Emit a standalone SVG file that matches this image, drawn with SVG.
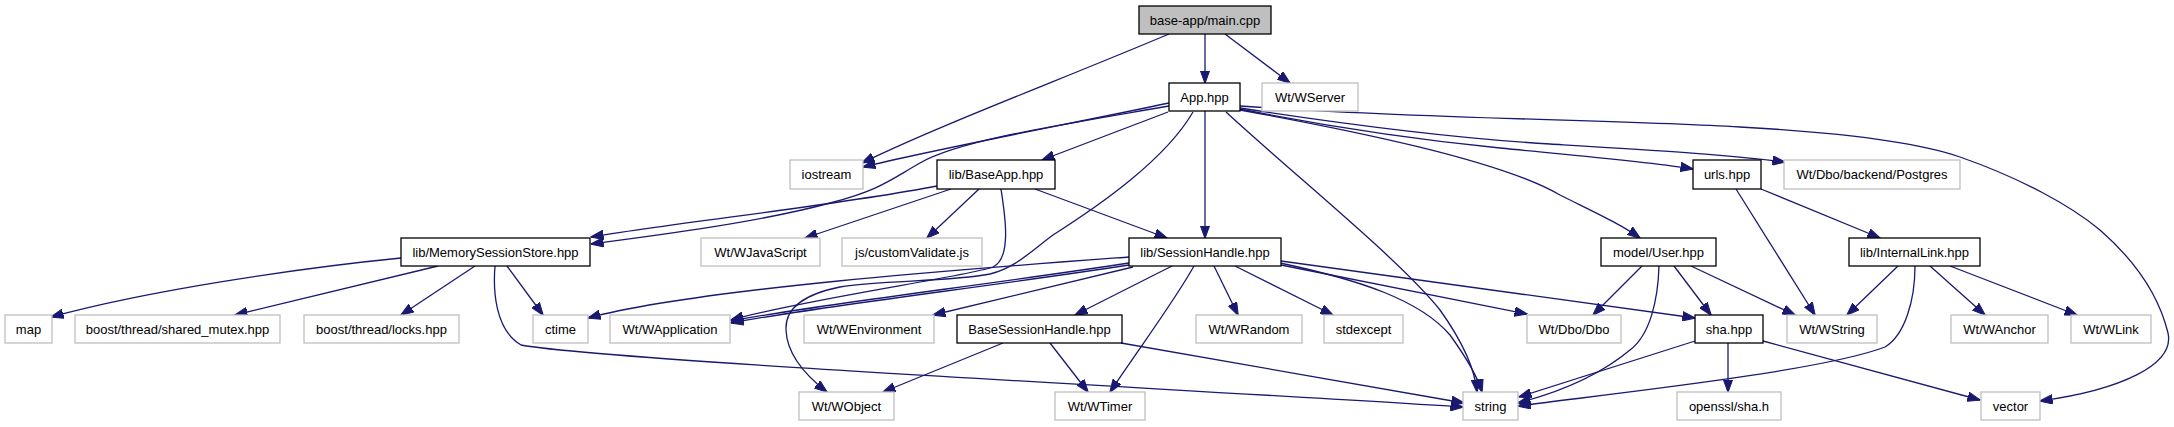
<svg xmlns="http://www.w3.org/2000/svg" width="2174" height="427" viewBox="0 0 2174 427">
<style>
.doc{fill:#ffffff;stroke:#000000;stroke-width:1.3}
.ext{fill:#ffffff;stroke:#bfbfbf;stroke-width:1.3}
.root{fill:#bfbfbf;stroke:#000000;stroke-width:1.3}
text{font-family:"Liberation Sans",Arial,sans-serif;font-size:13px;text-anchor:middle;fill:#000000}
.e{fill:none;stroke:#191970;stroke-width:1.3;marker-end:url(#arr)}
</style>
<defs>
<marker id="arr" markerUnits="userSpaceOnUse" viewBox="0 0 13 10" refX="12.5" refY="5" markerWidth="13" markerHeight="10" orient="auto">
<path d="M0,0.3 L13,5 L0,9.7 z" fill="#191970" stroke="#191970" stroke-width="1"/>
</marker>
</defs>
<rect width="2174" height="427" fill="#ffffff"/>
<g id="edges">
<path class="e" d="M1169,34 C1060,80 940,125 862,163"/>
<path class="e" d="M1205,34 L1205,83"/>
<path class="e" d="M1225,34 L1290,83"/>
<path class="e" d="M1169,103 C1080,122 940,148 863,167"/>
<path class="e" d="M1169,106 C1060,125 960,140 920,163 C890,180 880,190 830,203 C760,222 660,235 591,244"/>
<path class="e" d="M1168,112 L1042,160"/>
<path class="e" d="M1193,112 C1165,160 1100,205 1053,235 C1030,252 1015,268 990,274 C950,282 880,280 840,287 C800,295 785,310 786,330 C787,355 805,375 827,392"/>
<path class="e" d="M1205,111 L1205,238"/>
<path class="e" d="M1226,112 C1300,180 1400,260 1440,310 C1465,345 1475,370 1477,392"/>
<path class="e" d="M1240,110 C1350,130 1500,160 1560,195 C1600,215 1622,225 1640,238"/>
<path class="e" d="M1240,109 C1320,125 1400,138 1500,148 C1600,158 1650,162 1693,169"/>
<path class="e" d="M1240,108 C1350,125 1450,138 1550,144 C1650,150 1720,154 1785,162"/>
<path class="e" d="M1240,106 C1400,118 1620,120 1740,127 C1850,133 1920,143 1960,157 C2020,178 2070,205 2100,230 C2140,265 2160,300 2168,333 C2175,365 2120,390 2040,401"/>
<path class="e" d="M937,186 C840,205 680,222 591,237"/>
<path class="e" d="M951,189 L805,238"/>
<path class="e" d="M979,189 L927,238"/>
<path class="e" d="M1001,189 C1005,215 1012,258 993,267 C975,275 800,300 731,320"/>
<path class="e" d="M1035,189 L1167,238"/>
<path class="e" d="M401,258 C300,268 150,290 51,317"/>
<path class="e" d="M438,266 L235,315"/>
<path class="e" d="M475,266 L401,315"/>
<path class="e" d="M507,266 L543,315"/>
<path class="e" d="M495,266 C493,290 495,330 521,345 C600,360 1200,390 1463,407"/>
<path class="e" d="M1129,257 C980,268 700,288 588,318"/>
<path class="e" d="M1129,263 C1000,283 800,307 731,321"/>
<path class="e" d="M1129,265 C1000,285 800,309 731,323"/>
<path class="e" d="M1133,267 L933,315"/>
<path class="e" d="M1172,266 L1075,315"/>
<path class="e" d="M1194,266 C1175,300 1145,340 1110,392"/>
<path class="e" d="M1214,266 L1238,315"/>
<path class="e" d="M1235,266 L1333,315"/>
<path class="e" d="M1280,263 C1360,280 1420,300 1450,335 C1468,360 1478,378 1482,392"/>
<path class="e" d="M1281,265 L1527,314"/>
<path class="e" d="M1281,261 L1695,318"/>
<path class="e" d="M1003,343 L883,392"/>
<path class="e" d="M1050,343 L1088,392"/>
<path class="e" d="M1121,343 L1464,403"/>
<path class="e" d="M1642,266 L1593,315"/>
<path class="e" d="M1659,266 C1658,300 1650,335 1630,350 C1600,375 1560,392 1518,403"/>
<path class="e" d="M1674,266 L1711,315"/>
<path class="e" d="M1691,266 L1795,315"/>
<path class="e" d="M1736,189 L1815,315"/>
<path class="e" d="M1761,189 L1880,238"/>
<path class="e" d="M1898,266 L1847,315"/>
<path class="e" d="M1915,266 C1915,300 1905,335 1885,347 C1820,372 1600,395 1518,406"/>
<path class="e" d="M1930,266 L1985,315"/>
<path class="e" d="M1950,266 L2077,315"/>
<path class="e" d="M1695,341 L1519,397"/>
<path class="e" d="M1728,343 L1728,392"/>
<path class="e" d="M1763,341 L1980,400"/>
</g>
<g id="n_main"><rect class="root" x="1139" y="6" width="132" height="28"/><text x="1205" y="24.5">base-app/main.cpp</text></g>
<g id="n_app"><rect class="doc" x="1169" y="83" width="71" height="28"/><text x="1204.5" y="101.5">App.hpp</text></g>
<g id="n_wserver"><rect class="ext" x="1262" y="83" width="96" height="28"/><text x="1310" y="101.5">Wt/WServer</text></g>
<g id="n_iostream"><rect class="ext" x="790" y="160" width="73" height="29"/><text x="826.5" y="179">iostream</text></g>
<g id="n_baseapp"><rect class="doc" x="937" y="160" width="118" height="29"/><text x="996" y="179">lib/BaseApp.hpp</text></g>
<g id="n_urls"><rect class="doc" x="1693" y="160" width="68" height="29"/><text x="1727" y="179">urls.hpp</text></g>
<g id="n_postgres"><rect class="ext" x="1784" y="160" width="176" height="29"/><text x="1872" y="179">Wt/Dbo/backend/Postgres</text></g>
<g id="n_mss"><rect class="doc" x="401" y="238" width="189" height="28"/><text x="495.5" y="256.5">lib/MemorySessionStore.hpp</text></g>
<g id="n_wjs"><rect class="ext" x="701" y="238" width="119" height="28"/><text x="760.5" y="256.5">Wt/WJavaScript</text></g>
<g id="n_cv"><rect class="ext" x="842" y="238" width="140" height="28"/><text x="912" y="256.5">js/customValidate.js</text></g>
<g id="n_sh"><rect class="doc" x="1129" y="238" width="152" height="28"/><text x="1205" y="256.5">lib/SessionHandle.hpp</text></g>
<g id="n_user"><rect class="doc" x="1601" y="238" width="115" height="28"/><text x="1658.5" y="256.5">model/User.hpp</text></g>
<g id="n_il"><rect class="doc" x="1849" y="238" width="131" height="28"/><text x="1914.5" y="256.5">lib/InternalLink.hpp</text></g>
<g id="n_map"><rect class="ext" x="5" y="315" width="47" height="28"/><text x="28.5" y="333.5">map</text></g>
<g id="n_smutex"><rect class="ext" x="75" y="315" width="205" height="28"/><text x="177.5" y="333.5">boost/thread/shared_mutex.hpp</text></g>
<g id="n_locks"><rect class="ext" x="304" y="315" width="155" height="28"/><text x="381.5" y="333.5">boost/thread/locks.hpp</text></g>
<g id="n_ctime"><rect class="ext" x="533" y="315" width="55" height="28"/><text x="560.5" y="333.5">ctime</text></g>
<g id="n_wapp"><rect class="ext" x="610" y="315" width="120" height="28"/><text x="670" y="333.5">Wt/WApplication</text></g>
<g id="n_wenv"><rect class="ext" x="804" y="315" width="130" height="28"/><text x="869" y="333.5">Wt/WEnvironment</text></g>
<g id="n_bsh"><rect class="doc" x="957" y="315" width="165" height="28"/><text x="1039.5" y="333.5">BaseSessionHandle.hpp</text></g>
<g id="n_wrandom"><rect class="ext" x="1196" y="315" width="106" height="28"/><text x="1249" y="333.5">Wt/WRandom</text></g>
<g id="n_stdexcept"><rect class="ext" x="1324" y="315" width="79" height="28"/><text x="1363.5" y="333.5">stdexcept</text></g>
<g id="n_dbo"><rect class="ext" x="1527" y="315" width="94" height="28"/><text x="1574" y="333.5">Wt/Dbo/Dbo</text></g>
<g id="n_sha"><rect class="doc" x="1695" y="315" width="68" height="28"/><text x="1729" y="333.5">sha.hpp</text></g>
<g id="n_wstring"><rect class="ext" x="1787" y="315" width="90" height="28"/><text x="1832" y="333.5">Wt/WString</text></g>
<g id="n_wanchor"><rect class="ext" x="1951" y="315" width="97" height="28"/><text x="1999.5" y="333.5">Wt/WAnchor</text></g>
<g id="n_wlink"><rect class="ext" x="2071" y="315" width="80" height="28"/><text x="2111" y="333.5">Wt/WLink</text></g>
<g id="n_wobject"><rect class="ext" x="799" y="392" width="95" height="28"/><text x="846.5" y="410.5">Wt/WObject</text></g>
<g id="n_wtimer"><rect class="ext" x="1055" y="392" width="90" height="28"/><text x="1100" y="410.5">Wt/WTimer</text></g>
<g id="n_string"><rect class="ext" x="1463" y="392" width="55" height="28"/><text x="1490.5" y="410.5">string</text></g>
<g id="n_openssl"><rect class="ext" x="1677" y="392" width="104" height="28"/><text x="1729" y="410.5">openssl/sha.h</text></g>
<g id="n_vector"><rect class="ext" x="1981" y="392" width="59" height="28"/><text x="2010.5" y="410.5">vector</text></g>
</svg>
